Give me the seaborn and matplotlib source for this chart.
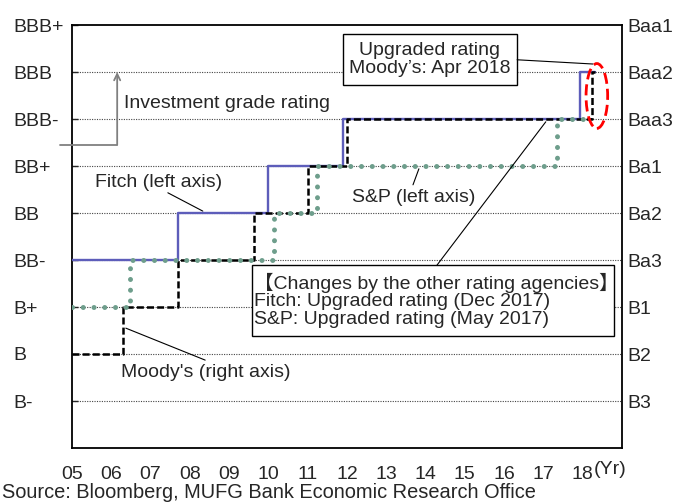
import matplotlib
matplotlib.use("Agg")
import matplotlib.pyplot as plt
import seaborn as sns
import pandas as pd
from matplotlib.patches import Rectangle, Ellipse

# ---- data ----
left_labels = ["B-", "B", "B+", "BB-", "BB", "BB+", "BBB-", "BBB", "BBB+"]
right_labels = ["B3", "B2", "B1", "Ba3", "Ba2", "Ba1", "Baa3", "Baa2", "Baa1"]
levels = [1, 2, 3, 4, 5, 6, 7, 8, 9]
years = list(range(2005, 2019))
year_labels = ["05", "06", "07", "08", "09", "10", "11", "12", "13", "14", "15", "16", "17", "18"]

fitch_dates = [2005.0, 2007.7, 2010.0, 2011.9, 2017.93, 2018.3]
fitch_levels = [4, 5, 6, 7, 8, 8]
moody_dates = [2005.0, 2006.3, 2007.7, 2009.64, 2011.0, 2012.0, 2018.23, 2018.3]
moody_levels = [2, 3, 4, 5, 6, 7, 8, 8]
sp_dates = [2005.0, 2006.48, 2010.14, 2011.24, 2017.35, 2018.25]
sp_levels = [3, 4, 5, 6, 7, 7]

fitch = pd.DataFrame({"date": fitch_dates, "level": fitch_levels})
moody = pd.DataFrame({"date": moody_dates, "level": moody_levels})
sp = pd.DataFrame({"date": sp_dates, "level": sp_levels})

sns.set_style("white")
FONT = ["Liberation Sans", "Noto Sans CJK JP", "DejaVu Sans"]
plt.rcParams["font.family"] = FONT
FS = 14

W, H = 686, 503
fig = plt.figure(figsize=(W / 100, H / 100), dpi=100)
ax = fig.add_axes([72 / W, 1 - 448 / H, 550 / W, 423 / H])

# gridlines
for lv in levels[:-1]:
    ax.axhline(lv, color="#444444", lw=0.8, linestyle=(0, (1, 1.2)), zorder=0)

sns.lineplot(data=fitch, x="date", y="level", ax=ax, color="#5D5DBA", lw=1.7,
             drawstyle="steps-post", estimator=None, zorder=3)
sns.lineplot(data=moody, x="date", y="level", ax=ax, color="black", lw=1.8,
             drawstyle="steps-post", estimator=None, linestyle=(0, (2.8, 1.25)), zorder=4)
sns.lineplot(data=sp, x="date", y="level", ax=ax, color="#6E9E8C", lw=3.6,
             drawstyle="steps-post", estimator=None, linestyle=(0, (0.01, 2.14)),
             dash_capstyle="round", zorder=5)

ax.set_xlim(2005, 2019)
ax.set_ylim(0, 9)
ax.set_xlabel("")
ax.set_ylabel("")
ax.set_xticks(years)
ax.set_xticklabels(year_labels, fontsize=FS)
ax.tick_params(axis="x", direction="in", length=4.5, width=1, pad=13)
ax.set_yticks(levels)
ax.set_yticklabels(left_labels, fontsize=FS)
ax.tick_params(axis="y", direction="in", length=4.5, width=1, pad=42)
for lbl in ax.get_yticklabels():
    lbl.set_horizontalalignment("left")
for s in ax.spines.values():
    s.set_color("black")
    s.set_linewidth(1.3)

ax2 = ax.twinx()
ax2.set_ylim(0, 9)
ax2.set_yticks(levels)
ax2.set_yticklabels(right_labels, fontsize=FS)
ax2.tick_params(axis="y", length=0, pad=4)
for s in ax2.spines.values():
    s.set_visible(False)

fig.text(594 / W, 1 - 469 / H, "(Yr)", fontsize=FS, ha="left", va="center")
fig.text(2 / W, 1 - 492 / H, "Source: Bloomberg, MUFG Bank Economic Research Office",
         fontsize=14.4, ha="left", va="center")

# Investment grade rating annotation
ax.plot([2004.69, 2006.15], [6.45, 6.45], color="#808080", lw=1.3, clip_on=False, zorder=6)
ax.annotate("", xy=(2006.15, 8.0), xytext=(2006.15, 6.45),
            arrowprops=dict(arrowstyle="->,head_length=0.45,head_width=0.22",
                            color="#808080", lw=1.3, shrinkA=0, shrinkB=0), zorder=6)
ax.text(2006.32, 7.34, "Investment grade rating", fontsize=FS, ha="left", va="center")

# series labels
ax.text(2005.59, 5.64, "Fitch (left axis)", fontsize=FS, ha="left", va="center")
ax.plot([2007.44, 2008.33], [5.43, 5.04], color="black", lw=0.8)
ax.text(2012.13, 5.34, "S&P (left axis)", fontsize=FS, ha="left", va="center")
ax.plot([2013.68, 2013.83], [5.60, 5.94], color="black", lw=0.8)
ax.text(2006.25, 1.60, "Moody's (right axis)", fontsize=FS, ha="left", va="center")
ax.plot([2008.39, 2006.37], [1.87, 2.55], color="black", lw=0.8)

# Upgraded rating box
ax.add_patch(Rectangle((2011.90, 7.72), 4.43, 1.09, facecolor="white",
                       edgecolor="black", lw=1.0, zorder=7))
ax.text(2014.11, 8.27, "Upgraded rating\nMoody\u2019s: Apr 2018", fontsize=FS,
        ha="center", va="center", linespacing=1.1, zorder=8)
ax.plot([2016.33, 2018.26], [8.26, 8.17], color="black", lw=0.8, zorder=7)
ax.add_patch(Ellipse((2018.36, 7.49), 0.55, 1.38, fill=False, edgecolor="#FF0000",
                     lw=2.0, linestyle=(0, (4, 1.8)), zorder=8))

# Changes box
ax.add_patch(Rectangle((2009.58, 2.383), 9.21, 1.511, facecolor="white",
                       edgecolor="black", lw=1.0, zorder=7))
ax.text(2009.63, 3.14,
        "\u3010Changes by the other rating agencies\u3011\n"
        "Fitch: Upgraded rating (Dec 2017)\n"
        "S&P: Upgraded rating (May 2017)",
        fontsize=FS, ha="left", va="center", linespacing=1.05, zorder=8)
ax.plot([2014.29, 2017.06], [3.89, 6.94], color="black", lw=0.8, zorder=7)

fig.savefig("out.png", dpi=100)
